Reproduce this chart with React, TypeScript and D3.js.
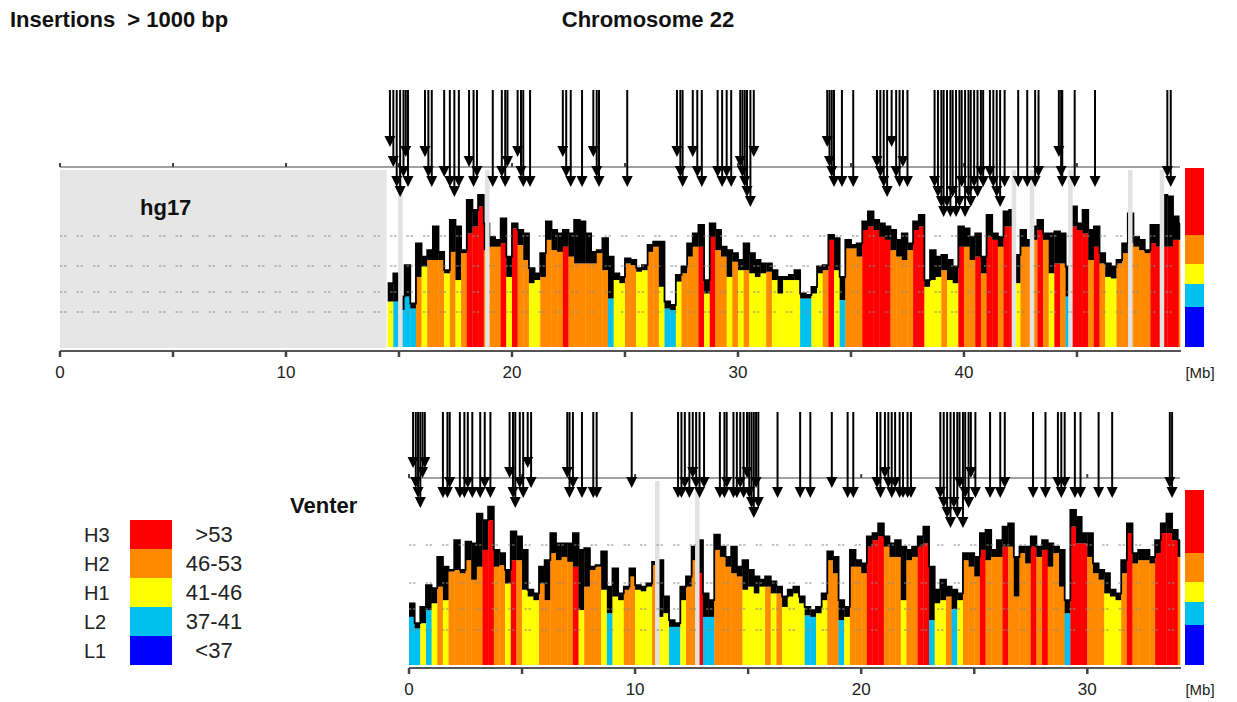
import React from "react";
import * as d3 from "d3";

// isochore classes, lowest first
const classNames = ["L1", "L2", "H1", "H2", "H3"];
const classRanges = ["<37", "37-41", "41-46", "46-53", ">53"];
const classColors = ["#0000ff", "#00c0f0", "#ffff00", "#ff8a00", "#ff0000"];
const classBreaks = [37, 41, 46, 53];

// hg17: 0.25 Mb bins from 14.5 Mb; top = GC envelope, fill = isochore level, cls = class index
const hgStart = 14.5;
const hgEnd = 49.56;
const hgSeqStart = 14.45;
const hgTop = [42.7, 44.6, 40.1, 46.2, 38.7, 51.3, 48.2, 49.7, 54.9, 49.3,
  45.2, 56.2, 54.9, 49.7, 60.2, 58.2, 61.2, 55.5, 52.8, 52.1,
  56.5, 48.2, 55.5, 54.2, 53.5, 45.6, 44.6, 49.0, 55.9, 54.2,
  53.5, 54.2, 53.5, 56.2, 55.9, 53.5, 49.3, 49.7, 52.5, 48.2,
  44.6, 43.9, 47.8, 47.4, 45.6, 46.2, 50.9, 51.7, 51.7, 39.1,
  38.4, 44.3, 45.9, 51.3, 53.5, 55.2, 43.3, 55.5, 54.2, 50.5,
  49.7, 49.0, 47.4, 51.3, 49.0, 47.4, 46.6, 46.6, 45.2, 43.9,
  43.9, 44.3, 45.2, 40.7, 40.4, 42.0, 45.9, 46.2, 53.2, 52.5,
  43.9, 52.1, 50.9, 51.3, 55.9, 57.9, 56.2, 55.5, 54.9, 54.2,
  52.1, 53.5, 51.3, 55.9, 57.2, 43.3, 49.7, 48.2, 48.6, 47.4,
  45.9, 54.9, 54.5, 52.8, 53.5, 48.2, 57.2, 53.5, 52.8, 57.9,
  58.2, 48.6, 54.2, 52.1, 54.9, 56.2, 53.5, 53.5, 53.9, 53.5,
  45.9, 58.9, 55.5, 58.2, 54.2, 54.9, 49.0, 46.6, 45.9, 47.4,
  51.3, 57.5, 52.8, 52.1, 49.7, 55.2, 55.2, 61.2, 60.9, 56.9, 55.5];
const hgFill = [39.1, 39.1, 37.4, 40.1, 37.7, 43.9, 45.9, 47.4, 47.4, 47.4,
  44.6, 49.3, 43.3, 49.0, 53.5, 54.9, 58.9, 49.7, 50.5, 50.5,
  51.3, 43.9, 54.5, 50.9, 47.4, 42.7, 43.3, 43.9, 52.1, 49.7,
  49.3, 50.5, 48.2, 46.6, 46.6, 46.6, 46.6, 49.0, 45.2, 39.7,
  43.3, 42.7, 46.6, 46.2, 44.9, 45.2, 49.3, 50.5, 42.0, 37.7,
  37.4, 43.0, 44.6, 48.2, 50.5, 50.5, 40.7, 52.8, 49.7, 48.2,
  43.9, 47.0, 45.2, 45.2, 44.6, 43.9, 44.6, 44.9, 43.3, 40.7,
  43.3, 43.3, 43.3, 39.7, 39.7, 40.7, 44.6, 45.2, 52.1, 45.2,
  39.4, 50.1, 50.1, 48.2, 54.2, 54.9, 54.2, 52.8, 52.1, 49.7,
  48.2, 47.4, 49.7, 54.2, 54.9, 42.0, 43.3, 43.9, 45.2, 43.3,
  42.7, 50.5, 50.5, 47.4, 48.2, 44.6, 52.8, 52.1, 50.5, 54.9,
  54.9, 42.7, 50.5, 50.5, 52.1, 54.2, 52.1, 44.6, 46.6, 46.6,
  40.1, 54.9, 54.2, 53.5, 47.4, 50.5, 46.6, 43.9, 43.6, 46.6,
  49.0, 51.3, 50.5, 49.7, 49.0, 51.3, 50.5, 50.5, 50.5, 52.1, 52.1];
const hgCls = [2, 1, 1, 1, 1, 3, 2, 3, 3, 3,
  2, 3, 2, 3, 4, 4, 4, 3, 3, 3,
  4, 2, 4, 3, 3, 2, 2, 3, 3, 3,
  3, 4, 3, 3, 3, 3, 3, 3, 3, 1,
  2, 2, 3, 3, 2, 2, 3, 3, 2, 1,
  1, 2, 3, 3, 3, 4, 2, 4, 3, 3,
  2, 3, 2, 3, 2, 2, 2, 3, 2, 2,
  2, 2, 2, 1, 1, 2, 2, 3, 4, 2,
  1, 3, 3, 3, 4, 4, 4, 4, 4, 3,
  3, 3, 3, 4, 4, 2, 2, 2, 3, 2,
  2, 4, 3, 3, 4, 3, 4, 4, 3, 4,
  4, 2, 3, 3, 3, 4, 3, 2, 4, 3,
  1, 4, 4, 4, 3, 4, 3, 2, 2, 3,
  3, 3, 3, 3, 3, 4, 4, 4, 4, 4, 3];
const hgGaps = [15.05, 18.9, 42.2, 43.0, 44.7, 47.35, 48.75];
// insertion positions (Mb) and stacking level of the arrow head
const hgArrowPos = [14.6, 14.75, 14.9, 15.05, 15.2, 15.3, 15.4,
  16.15, 16.3, 16.45, 17.0, 17.25, 17.45, 17.65, 18.1, 18.3, 18.45,
  19.15, 19.55, 19.7, 19.8, 20.25, 20.4, 20.5, 20.8,
  22.25, 22.4, 22.6, 23.1, 23.6, 23.75, 23.85, 25.1,
  27.3, 27.45, 27.55, 28.0, 28.2, 28.4, 29.1, 29.3, 29.5, 29.7,
  30.1, 30.2, 30.3, 30.4, 30.55, 30.7,
  33.95, 34.05, 34.15, 34.25, 34.6, 35.1,
  36.15, 36.3, 36.45, 36.6, 36.8, 37.0, 37.15, 37.3, 37.5,
  38.7, 38.85, 39.0, 39.1, 39.25, 39.4, 39.5, 39.65, 39.8, 39.9,
  40.05, 40.2, 40.3, 40.45, 40.6, 40.75, 40.85,
  41.15, 41.3, 41.45, 41.6, 41.8, 42.4, 42.8, 43.15, 43.3,
  44.2, 44.3, 44.35, 44.9, 45.8, 49.0, 49.15];
const hgArrowLvl = [-4, -2, 0, 1, -1, -3, 0,
  -3, -1, 0, -1, 0, 1, 0, -2, 0, -1,
  0, -1, 0, -2, -3, -1, 0, 0,
  -3, -1, 0, 0, -3, -1, 0, 0,
  -3, -1, 0, -3, -1, 0, -1, 0, -1, 0,
  -2, -1, 0, 1, 2, -3,
  -4, -2, -1, 0, 0, 0,
  -2, -1, 0, 1, -4, -1, 0, -2, 0,
  0, 1, 2, 3, 2, 3, 1, 3, 2, 0,
  3, 1, 2, 0, 1, -1, 0,
  -1, 0, 1, 2, 0, 0, 0, 0, -1,
  -3, -1, 0, 0, 0, -1, 0];

// Venter: 0.25 Mb bins from 0 Mb
const vtStart = 0;
const vtEnd = 34.1;
const vtTop = [42.1, 38.3, 41.4, 45.6, 45.0, 50.8, 49.0, 48.4, 53.9, 48.4,
  53.6, 53.3, 58.8, 57.6, 60.1, 52.1, 51.5, 48.4, 55.5, 54.6,
  52.1, 44.7, 44.0, 49.0, 50.2, 55.2, 53.3, 53.3, 53.3, 55.2,
  52.1, 52.4, 49.0, 49.3, 51.8, 45.3, 48.7, 44.0, 45.3, 48.7,
  45.6, 45.3, 45.9, 49.9, 50.2, 43.4, 38.9, 38.3, 45.3, 47.2,
  52.7, 53.9, 44.0, 42.7, 54.9, 52.7, 50.8, 52.7, 49.0, 50.2,
  48.4, 47.2, 46.6, 47.2, 46.3, 45.3, 43.4, 44.7, 45.3, 43.4,
  41.4, 40.8, 41.4, 44.0, 51.8, 50.8, 42.7, 41.4, 52.1, 50.2,
  49.6, 54.6, 55.2, 57.0, 54.6, 53.3, 53.9, 52.7, 52.1, 52.7,
  54.6, 56.4, 49.0, 44.7, 46.6, 45.3, 44.7, 44.0, 51.5, 51.5,
  50.8, 55.2, 55.8, 52.1, 53.9, 56.4, 57.0, 50.8, 52.7, 52.7,
  54.6, 52.7, 53.9, 53.3, 52.7, 52.1, 42.7, 59.5, 58.2, 55.2,
  55.2, 49.6, 48.4, 47.8, 44.7, 44.0, 50.2, 57.0, 51.5, 52.1,
  52.1, 50.8, 53.9, 57.0, 58.8, 55.8, 53.9];
const vtFill = [39.5, 37.3, 38.3, 40.8, 42.1, 45.3, 42.7, 48.1, 48.4, 47.8,
  50.2, 46.6, 49.0, 52.1, 57.6, 49.0, 49.3, 45.9, 50.2, 50.2,
  44.7, 43.4, 42.7, 45.9, 42.7, 51.5, 50.2, 50.8, 49.9, 49.0,
  40.8, 45.3, 48.4, 49.0, 44.7, 40.2, 43.4, 42.7, 44.7, 47.2,
  44.7, 44.4, 45.3, 49.3, 39.5, 40.2, 37.6, 37.6, 42.7, 45.3,
  50.2, 47.8, 39.5, 39.5, 52.1, 50.8, 49.0, 47.8, 47.2, 44.7,
  45.3, 44.0, 45.3, 45.3, 44.0, 44.0, 41.4, 43.4, 44.0, 42.1,
  39.8, 39.5, 40.2, 42.7, 50.2, 47.8, 38.9, 39.5, 49.0, 49.0,
  47.8, 52.7, 53.9, 54.6, 52.7, 50.8, 50.8, 42.7, 50.2, 50.8,
  52.7, 53.3, 38.9, 42.1, 42.7, 43.4, 41.0, 42.7, 50.2, 49.0,
  47.2, 52.1, 50.2, 50.8, 50.8, 52.7, 52.7, 43.4, 51.5, 49.6,
  52.7, 50.8, 52.1, 49.0, 51.5, 45.3, 40.2, 56.4, 53.3, 53.3,
  50.8, 47.8, 46.6, 44.0, 43.4, 42.7, 47.8, 55.2, 49.6, 50.2,
  50.2, 49.6, 51.5, 55.2, 55.2, 53.9, 50.8];
const vtCls = [1, 1, 2, 1, 2, 3, 2, 3, 3, 3,
  3, 3, 3, 4, 4, 3, 3, 2, 4, 3,
  2, 2, 2, 3, 3, 3, 3, 3, 3, 4,
  2, 3, 3, 3, 2, 1, 2, 2, 3, 3,
  2, 2, 2, 3, 2, 2, 1, 1, 2, 3,
  3, 4, 1, 1, 3, 3, 3, 3, 3, 2,
  2, 2, 2, 3, 2, 3, 2, 2, 2, 2,
  1, 1, 2, 2, 3, 3, 1, 2, 3, 3,
  3, 4, 4, 4, 3, 3, 3, 2, 3, 3,
  4, 4, 1, 2, 2, 3, 1, 2, 3, 3,
  3, 4, 3, 3, 3, 4, 3, 3, 3, 3,
  4, 3, 4, 3, 3, 3, 1, 4, 4, 4,
  3, 3, 3, 2, 2, 2, 3, 4, 3, 3,
  3, 3, 4, 4, 4, 4, 3];
const vtGaps = [10.97, 12.74];
const vtArrowPos = [0.18, 0.3, 0.4, 0.5, 0.6, 0.7, 1.5, 1.7, 1.8,
  2.25, 2.45, 2.6, 2.8, 3.15, 3.35, 3.6, 4.45, 4.6, 4.7,
  4.9, 5.05, 5.25, 5.4, 7.0, 7.1, 7.25, 7.65, 8.15, 8.3, 9.85,
  11.9, 12.05, 12.2, 12.4, 12.55, 12.7, 12.85, 13.05,
  13.75, 13.95, 14.05, 14.35, 14.5, 14.65, 14.8,
  14.95, 15.05, 15.15, 15.25, 15.35, 15.45, 16.3, 17.3, 17.75, 18.7, 19.4, 19.65,
  20.7, 20.85, 21.05, 21.2, 21.35, 21.5, 21.7, 21.85, 22.05, 22.2,
  23.5, 23.65, 23.8, 23.95, 24.1, 24.25, 24.35, 24.5, 24.6, 24.75, 24.85,
  25.05, 25.7, 26.15, 26.35, 27.6, 28.15, 28.7, 28.85, 29.0,
  29.45, 29.7, 30.5, 31.1, 33.65, 33.75];
const vtArrowLvl = [-3, -1, 0, 1, -2, -3, 0, 0, -1,
  0, 0, -1, 0, 0, -1, 0, -2, 0, 1,
  -1, 0, -3, -1, -2, 0, -1, 0, 0, 0, -1,
  0, 0, -1, 0, -2, -1, 0, -1,
  0, 0, -1, 0, 0, -1, 0,
  -2, 0, 1, 2, -1, 1, 0, 0, 0, -1, 0, 0,
  -1, 0, -2, -1, 0, -1, 0, 0, 0, 0,
  0, 1, 2, 3, 1, 2, -1, 3, 0, 1, -2,
  0, 0, 0, -1, 0, 0, -1, 0, -1,
  0, 0, 0, 0, -1, 0];

// GC levels for the dashed guides and the key bar
const gcLevels = [30, 37, 41, 46, 53, 65];

const font = "'Liberation Sans', Arial, sans-serif";

type PanelProps = {
  label: string; labelX: number; labelY: number;
  start: number; end: number; seqStart: number;
  top: number[]; fill: number[]; cls: number[]; gaps: number[];
  arrowPos: number[]; arrowLvl: number[];
  x0: number; bottom: number; offsets: number[]; lineY: number; stemTop: number;
  axisY: number; barTop: number; grey?: boolean;
};

function Panel(p: PanelProps) {
  const x = d3.scaleLinear().domain([0, p.end]).range([p.x0, 1180]);
  const y = d3.scaleLinear().domain(gcLevels).range(p.offsets.map((o) => p.bottom - o));
  const binW = 0.25;
  const bins = p.top.map((t, i) => ({
    s: p.start + i * binW,
    e: Math.min(p.start + (i + 1) * binW, p.end),
    t, f: Math.min(p.fill[i], t), c: classColors[p.cls[i]],
  }));
  const step = d3.line<[number, number]>().curve(d3.curveStepAfter);
  const pts: [number, number][] = bins.map((b) => [x(b.s), y(b.t)]);
  pts.push([x(bins[bins.length - 1].e), y(bins[bins.length - 1].t)]);
  const ticks = d3.range(0, p.end, 5);
  const bar = d3.scaleLinear().domain(gcLevels)
    .range([p.bottom, p.bottom - 40, p.bottom - 63, p.bottom - 83, p.bottom - 112, p.barTop]);
  return (
    <g>
      {p.grey && (
        <rect x={x(0)} y={p.lineY + 3} width={x(p.seqStart) - x(0)} height={p.bottom - p.lineY - 2} fill="#e6e6e6" />
      )}
      {bins.map((b, i) => (
        <g key={i}>
          <rect x={x(b.s)} y={y(b.f)} width={x(b.e) - x(b.s) + 0.3} height={p.bottom - y(b.f)} fill={b.c} />
          <rect x={x(b.s)} y={y(b.t)} width={x(b.e) - x(b.s) + 0.3} height={y(b.f) - y(b.t)} fill="#000" />
        </g>
      ))}
      <path d={step(pts) || ""} fill="none" stroke="#000" strokeWidth={1.8} />
      {p.gaps.map((g, i) => (
        <rect key={i} x={x(g) - 2} y={p.lineY + 3} width={4.5} height={p.bottom - p.lineY - 3} fill="#e2e2e2" />
      ))}
      {classBreaks.map((c) => (
        <line key={c} x1={x(0)} x2={1180} y1={y(c)} y2={y(c)} stroke="#8a8a8a" strokeWidth={1}
          strokeDasharray="2.5,1.5,2.5,10" />
      ))}
      <line x1={x(0)} x2={1180} y1={p.lineY} y2={p.lineY} stroke="#444" strokeWidth={1.2} />
      {ticks.map((t) => (
        <line key={t} x1={x(t)} x2={x(t)} y1={p.lineY} y2={p.lineY - 4} stroke="#444" strokeWidth={2} />
      ))}
      {p.arrowPos.map((a, i) => {
        const ax = x(a);
        const tip = p.lineY + 20 + p.arrowLvl[i] * 10;
        return (
          <g key={i}>
            <line x1={ax} x2={ax} y1={p.stemTop} y2={tip - 8} stroke="#000" strokeWidth={2} />
            <path d={`M${ax - 5.5},${tip - 11}L${ax + 5.5},${tip - 11}L${ax},${tip}Z`} fill="#000" />
          </g>
        );
      })}
      <line x1={x(0)} x2={1181} y1={p.axisY} y2={p.axisY} stroke="#555" strokeWidth={2} />
      {ticks.map((t) => (
        <line key={t} x1={x(t)} x2={x(t)} y1={p.axisY} y2={p.axisY + 6} stroke="#444" strokeWidth={2.5} />
      ))}
      {ticks.filter((t) => t % 10 === 0).map((t) => (
        <text key={t} x={x(t)} y={p.axisY + 27} fontSize={17} textAnchor="middle" fontFamily={font} fill="#222">{t}</text>
      ))}
      <text x={1200} y={p.axisY + 27} fontSize={15} textAnchor="middle" fontFamily={font} fill="#222">[Mb]</text>
      {classColors.map((c, i) => (
        <rect key={c} x={1185} y={bar(gcLevels[i + 1])} width={19}
          height={bar(gcLevels[i]) - bar(gcLevels[i + 1])} fill={c} />
      ))}
      <text x={p.labelX} y={p.labelY} fontSize={22} fontWeight="bold" fontFamily={font} fill="#111">{p.label}</text>
    </g>
  );
}

export default function App() {
  return (
    <svg width={1237} height={702} style={{ position: "absolute", left: 0, top: 0, background: "#fff" }}>
      <rect width={1237} height={702} fill="#fff" />
      <text x={10} y={27} fontSize={22} fontWeight="bold" fontFamily={font} fill="#111"
        style={{ whiteSpace: "pre" }}>{"Insertions  > 1000 bp"}</text>
      <text x={648} y={27} fontSize={22} fontWeight="bold" fontFamily={font} fill="#111" textAnchor="middle">Chromosome 22</text>
      <Panel label="hg17" labelX={140} labelY={215} start={hgStart} end={hgEnd} seqStart={hgSeqStart}
        top={hgTop} fill={hgFill} cls={hgCls} gaps={hgGaps} arrowPos={hgArrowPos} arrowLvl={hgArrowLvl}
        x0={60} bottom={347} offsets={[0, 35, 55, 81, 111, 171]} lineY={167} stemTop={90}
        axisY={351} barTop={168} grey />
      <Panel label="Venter" labelX={290} labelY={513} start={vtStart} end={vtEnd} seqStart={0}
        top={vtTop} fill={vtFill} cls={vtCls} gaps={vtGaps} arrowPos={vtArrowPos} arrowLvl={vtArrowLvl}
        x0={409} bottom={665} offsets={[0, 35, 56, 82, 120, 185]} lineY={478} stemTop={412}
        axisY={668} barTop={490} />
      {classColors.map((c, i) => {
        const yy = 520 + (4 - i) * 29;
        return (
          <g key={c}>
            <rect x={130} y={yy} width={42} height={29} fill={c} />
            <text x={84} y={yy + 22} fontSize={20} fontFamily={font} fill="#222">{classNames[i]}</text>
            <text x={214} y={yy + 22} fontSize={22} fontFamily={font} fill="#222" textAnchor="middle">{classRanges[i]}</text>
          </g>
        );
      })}
    </svg>
  );
}
